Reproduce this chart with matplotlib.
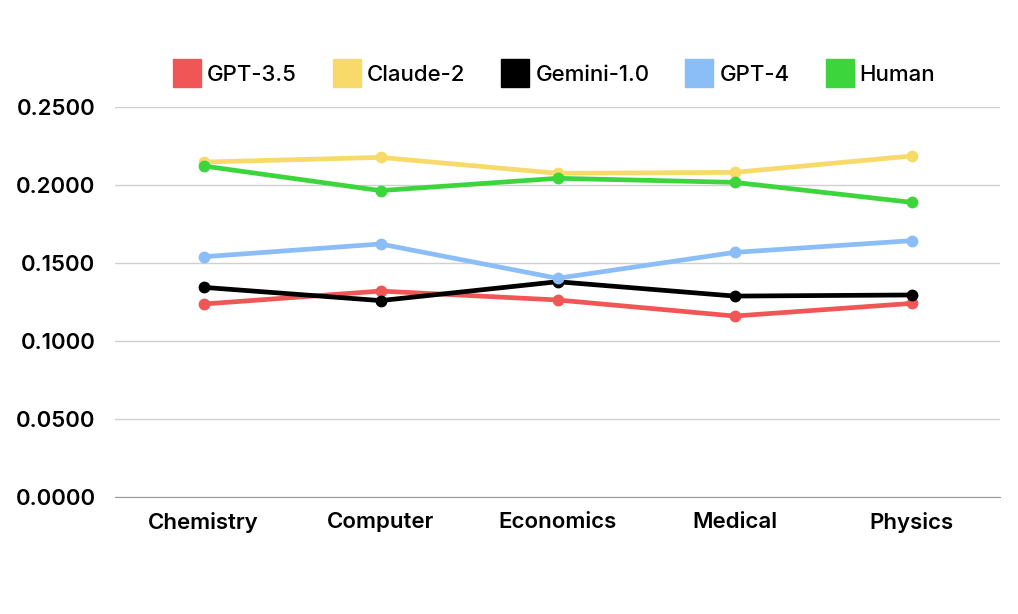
import matplotlib.pyplot as plt
from matplotlib.lines import Line2D

categories = ['Chemistry', 'Computer', 'Economics', 'Medical', 'Physics']
gpt35 = [0.1237, 0.1320, 0.1263, 0.1160, 0.1241]
claude2 = [0.2147, 0.2177, 0.2075, 0.2081, 0.2186]
gemini10 = [0.1344, 0.1259, 0.1380, 0.1288, 0.1295]
gpt4 = [0.1540, 0.1622, 0.1402, 0.1568, 0.1643]
human = [0.2122, 0.1964, 0.2043, 0.2017, 0.1889]

series = [('GPT-3.5', gpt35, '#F05656'),
          ('Claude-2', claude2, '#F8DA6A'),
          ('Gemini-1.0', gemini10, '#000000'),
          ('GPT-4', gpt4, '#8BBDF6'),
          ('Human', human, '#3CD63C')]

plt.rcParams['font.family'] = ['Inter', 'DejaVu Sans']

fig = plt.figure(figsize=(10.18, 6.14), dpi=100)
ax = fig.add_axes([115 / 1018, 1 - 497 / 614, 885 / 1018, 390 / 614])

x = range(len(categories))
handles = []
for name, vals, col in series:
    ax.plot(x, vals, color=col, lw=3.4, marker='o', ms=7.5, solid_capstyle='round')
    handles.append(Line2D([], [], ls='none', marker='s', ms=20, color=col, label=name))

ax.set_xlim(-0.5, len(categories) - 0.5)
ax.set_ylim(0, 0.25)
ax.set_yticks([0, 0.05, 0.1, 0.15, 0.2, 0.25])
ax.set_yticklabels(['%.4f' % v for v in [0, 0.05, 0.1, 0.15, 0.2, 0.25]])
ax.set_xticks(list(x))
ax.set_xticklabels(categories)
ax.tick_params(length=0, labelsize=16)
for lab in ax.get_xticklabels() + ax.get_yticklabels():
    lab.set_fontweight('semibold')
ax.tick_params(axis='y', pad=14)
ax.tick_params(axis='x', pad=11)

ax.grid(axis='y', color='#d0d0d0', lw=1)
ax.set_axisbelow(True)
for s in ['top', 'right', 'left']:
    ax.spines[s].set_visible(False)
ax.spines['bottom'].set_color('#999999')
ax.spines['bottom'].set_zorder(0)

fig.legend(handles=handles, loc='center', bbox_to_anchor=(555 / 1018, 1 - 75 / 614),
           ncol=5, frameon=False, handletextpad=0.35, columnspacing=1.7,
           handlelength=1.1, prop={'weight': 'medium', 'size': 16})

fig.savefig('out.png', dpi=100, facecolor='white')
